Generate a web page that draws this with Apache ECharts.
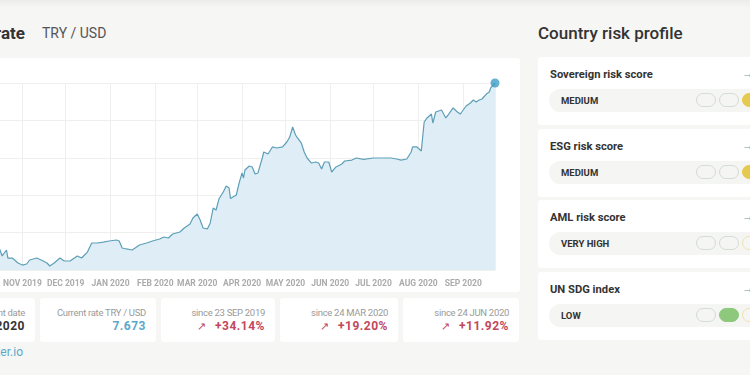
<!DOCTYPE html>
<html>
<head>
<meta charset="utf-8">
<script src="https://cdn.jsdelivr.net/npm/echarts@6/dist/echarts.min.js"></script>
<style>
  html, body { margin:0; padding:0; }
  body { width:750px; height:375px; overflow:hidden; position:relative; background:#f6f6f5; font-family: Roboto, "Noto Sans", sans-serif; }
  .abs { position:absolute; }
  .topshade { left:0; top:0; width:750px; height:8px; background:linear-gradient(#ececeb,#f6f6f5); }
  .card { background:#fff; border-radius:3px; }
  .h-title { font-size:17px; font-weight:700; color:#333; white-space:nowrap; }
  .h-sub { font-size:14px; color:#555; white-space:nowrap; }
  .stat { top:298px; height:44px; background:#fff; border-radius:3px; }
  .stat .lbl { position:absolute; right:10px; top:9px; font-size:9.5px; letter-spacing:-0.3px; color:#9a9a9a; white-space:nowrap; }
  .stat .val { position:absolute; right:10px; top:21px; font-size:12px; font-weight:700; color:#333; white-space:nowrap; letter-spacing:0.5px; }
  .stat .val.blue { color:#5ba8cb; }
  .stat .val.red { color:#c2475d; }
  .stat .arr { font-weight:400; font-size:11px; margin-right:9px; }
  .rcard { left:538px; width:230px; height:68px; background:#fff; border-radius:3px; }
  .rcard .t { position:absolute; left:12px; top:11px; font-size:11.2px; font-weight:700; color:#333; white-space:nowrap; }
  .rcard .go { position:absolute; left:204px; top:9px; font-size:12px; color:#6a9aaa; }
  .rcard .pill { position:absolute; left:11px; top:32px; width:230px; height:23px; border-radius:12px; background:#f5f5f3; }
  .rcard .pill .pl { position:absolute; left:12px; top:6px; font-size:9.5px; font-weight:700; color:#333; }
  .ov { position:absolute; top:4px; width:18px; height:12px; border-radius:8px; border:1.5px solid #d3ddd3; background:transparent; }
</style>
</head>
<body>
<div class="abs topshade"></div>

<!-- left header -->
<div class="abs h-title" style="right:725px; top:23px;">Exchange rate</div>
<div class="abs h-sub" style="left:42px; top:25px;">TRY / USD</div>

<!-- chart card -->
<div class="abs card" style="left:-100px; top:58px; width:620px; height:234px;"></div>
<div id="chart" class="abs" style="left:-80px; top:58px; width:600px; height:234px;"></div>

<!-- stat boxes -->
<div class="abs stat" style="left:-83px; width:118px;"><div class="lbl">Current date</div><div class="val">23 SEP 2020</div></div>
<div class="abs stat" style="left:40px; width:116px;"><div class="lbl">Current rate TRY / USD</div><div class="val blue" id="curRate"></div></div>
<div class="abs stat" style="left:161px; width:114px;"><div class="lbl">since 23 SEP 2019</div><div class="val red"><span class="arr">&#8599;</span>+34.14%</div></div>
<div class="abs stat" style="left:280px; width:118px;"><div class="lbl">since 24 MAR 2020</div><div class="val red"><span class="arr">&#8599;</span>+19.20%</div></div>
<div class="abs stat" style="left:403px; width:116px;"><div class="lbl">since 24 JUN 2020</div><div class="val red"><span class="arr">&#8599;</span>+11.92%</div></div>

<div class="abs" style="right:727px; top:345px; font-size:12px; color:#5ba8cb; white-space:nowrap;">fixer.io</div>

<!-- right panel -->
<div class="abs" style="left:538px; top:23px; font-size:17px; font-weight:500; color:#333; white-space:nowrap;">Country risk profile</div>

<div class="abs rcard" style="top:57px;">
  <div class="t">Sovereign risk score</div><div class="go">&#8594;</div>
  <div class="pill"><div class="pl">MEDIUM</div>
    <div class="ov" style="left:147px;"></div><div class="ov" style="left:170px;"></div><div class="ov" style="left:193px; background:#e6c94e; border-color:#e6c94e;"></div>
  </div>
</div>
<div class="abs rcard" style="top:129px;">
  <div class="t">ESG risk score</div><div class="go">&#8594;</div>
  <div class="pill"><div class="pl">MEDIUM</div>
    <div class="ov" style="left:147px;"></div><div class="ov" style="left:170px;"></div><div class="ov" style="left:193px; background:#e6c94e; border-color:#e6c94e;"></div>
  </div>
</div>
<div class="abs rcard" style="top:200px;">
  <div class="t">AML risk score</div><div class="go">&#8594;</div>
  <div class="pill"><div class="pl">VERY HIGH</div>
    <div class="ov" style="left:147px;"></div><div class="ov" style="left:170px;"></div><div class="ov" style="left:193px; border-color:#f0e2ad;"></div>
  </div>
</div>
<div class="abs rcard" style="top:272px;">
  <div class="t">UN SDG index</div><div class="go">&#8594;</div>
  <div class="pill"><div class="pl">LOW</div>
    <div class="ov" style="left:147px;"></div><div class="ov" style="left:170px; background:#8ec87c; border-color:#8ec87c;"></div><div class="ov" style="left:193px; border-color:#f0e2ad;"></div>
  </div>
</div>

<script>
const dates = ['2019-09-23','2019-09-26','2019-10-01','2019-10-04','2019-10-08','2019-10-10','2019-10-14','2019-10-16','2019-10-18','2019-10-21','2019-10-22','2019-10-25','2019-10-29','2019-11-01','2019-11-04','2019-11-06','2019-11-11','2019-11-14','2019-11-18','2019-11-20','2019-11-23','2019-11-27','2019-11-30','2019-12-04','2019-12-07','2019-12-09','2019-12-12','2019-12-14','2019-12-16','2019-12-19','2019-12-23','2019-12-27','2019-12-31','2020-01-05','2020-01-07','2020-01-09','2020-01-12','2020-01-16','2020-01-18','2020-01-21','2020-01-26','2020-01-30','2020-02-04','2020-02-07','2020-02-10','2020-02-13','2020-02-18','2020-02-21','2020-02-25','2020-02-27','2020-03-01','2020-03-03','2020-03-05','2020-03-08','2020-03-10','2020-03-12','2020-03-14','2020-03-16','2020-03-19','2020-03-21','2020-03-23','2020-03-24','2020-03-25','2020-03-28','2020-03-30','2020-04-01','2020-04-02','2020-04-03','2020-04-06','2020-04-08','2020-04-10','2020-04-12','2020-04-15','2020-04-16','2020-04-19','2020-04-22','2020-04-25','2020-04-29','2020-04-30','2020-05-02','2020-05-04','2020-05-06','2020-05-08','2020-05-09','2020-05-12','2020-05-14','2020-05-16','2020-05-19','2020-05-22','2020-05-24','2020-05-26','2020-05-28','2020-05-31','2020-06-02','2020-06-05','2020-06-09','2020-06-11','2020-06-12','2020-06-16','2020-06-19','2020-06-24','2020-07-01','2020-07-08','2020-07-13','2020-07-17','2020-07-20','2020-07-24','2020-07-27','2020-07-28','2020-07-31','2020-08-03','2020-08-05','2020-08-07','2020-08-08','2020-08-10','2020-08-11','2020-08-13','2020-08-17','2020-08-18','2020-08-20','2020-08-22','2020-08-25','2020-08-28','2020-08-30','2020-08-31','2020-09-03','2020-09-06','2020-09-08','2020-09-10','2020-09-12','2020-09-14','2020-09-17','2020-09-19','2020-09-20','2020-09-23'];

const rates = [5.720,5.690,5.700,5.760,5.860,5.930,5.930,5.908,5.823,5.887,5.801,5.801,5.748,5.726,5.737,5.780,5.801,5.780,5.748,5.716,5.748,5.801,5.769,5.769,5.801,5.823,5.801,5.833,5.865,5.962,5.962,5.972,5.983,5.994,5.983,5.908,5.898,5.887,5.908,5.940,5.962,5.983,6.005,6.026,6.015,6.058,6.079,6.122,6.165,6.229,6.272,6.208,6.122,6.112,6.176,6.336,6.315,6.432,6.507,6.571,6.550,6.437,6.422,6.475,6.604,6.711,6.657,6.743,6.785,6.775,6.700,6.711,6.871,6.935,6.914,6.989,6.978,6.989,7.010,7.042,7.095,7.202,7.117,7.095,7.031,6.935,6.871,6.817,6.828,6.817,6.753,6.828,6.828,6.721,6.775,6.807,6.839,6.828,6.849,6.871,6.856,6.871,6.871,6.871,6.860,6.849,6.860,6.935,6.989,6.989,6.946,7.256,7.299,7.309,7.341,7.245,7.363,7.384,7.395,7.299,7.341,7.406,7.363,7.341,7.363,7.427,7.459,7.491,7.470,7.491,7.502,7.555,7.577,7.620,7.673];

const monthNames = ['JAN','FEB','MAR','APR','MAY','JUN','JUL','AUG','SEP','OCT','NOV','DEC'];
const yMin = 5.673, yMax = 7.673, yStep = 0.4;

document.getElementById('curRate').textContent = rates[rates.length-1].toFixed(3);

const lineData = dates.map((d,i) => [d, rates[i]]);
const lastPoint = [dates[dates.length-1], rates[rates.length-1]];

const chart = echarts.init(document.getElementById('chart'), null, {renderer:'canvas'});
chart.setOption({
  animation: false,
  grid: { left: 46, right: 25, top: 25, bottom: 22 },
  xAxis: {
    type: 'time',
    min: dates[0],
    max: dates[dates.length-1],
    splitNumber: 12,
    axisLine: { show: false },
    axisTick: { show: false },
    splitLine: { show: true, lineStyle: { color: '#efefef', width: 1 } },
    axisLabel: {
      color: '#ababab', fontSize: 8.5, fontWeight: 'bold', fontFamily: 'Roboto', margin: 9,
      hideOverlap: false,
      formatter: function (v) { const d = new Date(v); return monthNames[d.getMonth()] + ' ' + d.getFullYear(); }
    }
  },
  yAxis: {
    type: 'value',
    min: yMin, max: yMax, interval: yStep,
    axisLine: { show: false }, axisTick: { show: false },
    axisLabel: { show: false },
    splitLine: { lineStyle: { color: '#efefef', width: 1 } }
  },
  series: [
    {
      type: 'line', data: lineData, showSymbol: false, symbol: 'none',
      lineStyle: { color: '#5e9fb7', width: 1.2 },
      areaStyle: { color: '#dfeef6', opacity: 1 },
      z: 2
    },
    {
      type: 'scatter', data: [lastPoint], symbolSize: 9,
      itemStyle: { color: '#3d9dc7' }, z: 3
    }
  ]
});
</script>
</body>
</html>
